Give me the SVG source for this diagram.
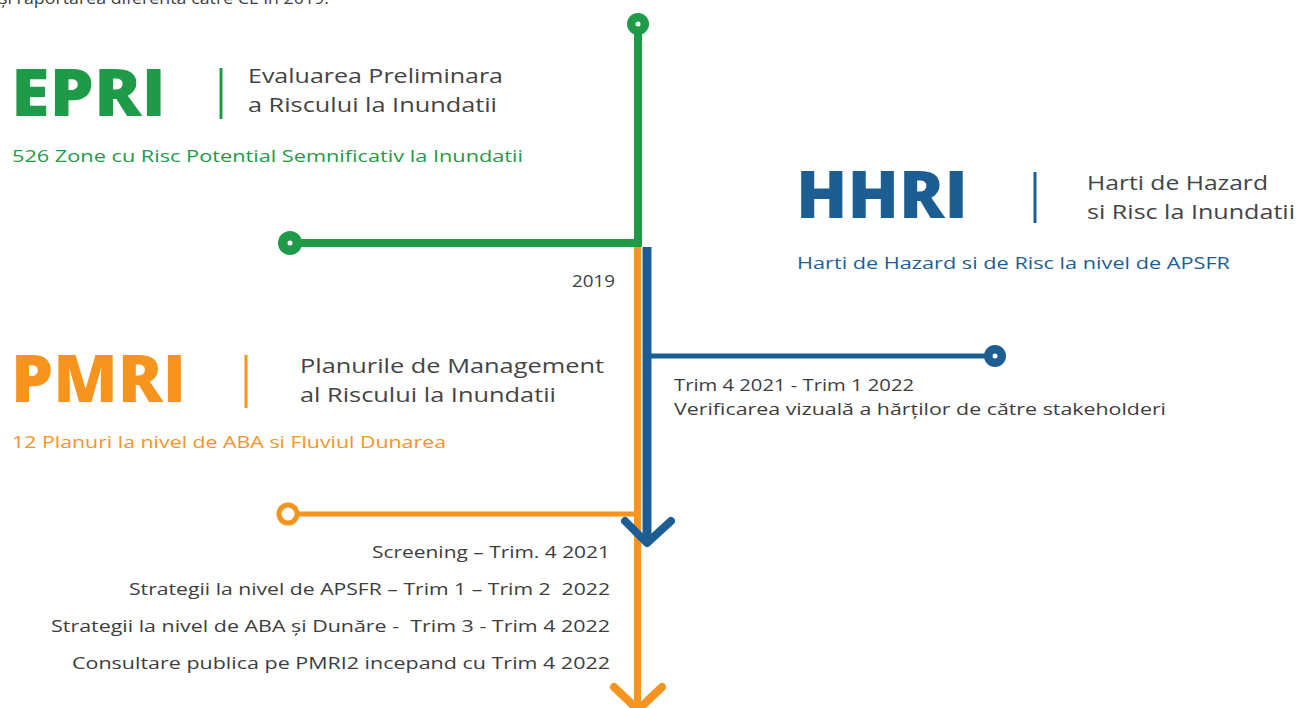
<svg xmlns="http://www.w3.org/2000/svg" width="1299" height="708" viewBox="0 0 1299 708">
<style>
text{font-family:"Open Sans","Noto Sans","Liberation Sans",sans-serif;white-space:pre}
.big{font-weight:800;font-size:65px}
.sub{font-size:20px;fill:#444}
.note{font-size:16.5px}
.grey{fill:#3d3d3d}
.g{fill:#1f9a48}.o{fill:#f7941d}.b{fill:#1d5e92}
.chev{fill:none;stroke-width:8;stroke-linecap:round;stroke-linejoin:round}
</style>
<rect width="1299" height="708" fill="#fff"/>
<text x="-1" y="4" class="note grey" textLength="330" lengthAdjust="spacingAndGlyphs">și raportarea diferenta catre CE in 2019.</text>

<g id="connectors">
  <line x1="638" y1="24" x2="638" y2="247" stroke="#1f9a48" stroke-width="8"/>
  <line x1="290" y1="243" x2="642" y2="243" stroke="#1f9a48" stroke-width="8"/>
  <line x1="637.5" y1="247" x2="637.5" y2="704" stroke="#f7941d" stroke-width="7"/>
  <line x1="647" y1="247" x2="647" y2="542" stroke="#1d5e92" stroke-width="9"/>
  <line x1="647" y1="356" x2="995" y2="356" stroke="#1d5e92" stroke-width="5"/>
  <line x1="288" y1="514" x2="637" y2="514" stroke="#f7941d" stroke-width="5"/>
  <polyline class="chev" points="625,521 647,543 671,521" stroke="#1d5e92"/>
  <polyline class="chev" points="614,687 638,710 662,687" stroke="#f7941d"/>
  <circle cx="638" cy="24" r="11" fill="#1f9a48"/>
  <circle cx="638" cy="24" r="2.5" fill="#fff"/>
  <circle cx="290" cy="243" r="12" fill="#1f9a48"/>
  <circle cx="290" cy="243" r="2.5" fill="#fff"/>
  <circle cx="995" cy="356" r="11" fill="#1d5e92"/>
  <circle cx="995" cy="356" r="2.5" fill="#fff"/>
  <circle cx="288" cy="514" r="9" fill="#fff" stroke="#f7941d" stroke-width="5"/>
</g>

<g id="epri">
  <text x="11" y="116" class="big g" textLength="155" lengthAdjust="spacingAndGlyphs">EPRI</text>
  <line x1="221" y1="68" x2="221" y2="119" stroke="#1f9a48" stroke-width="3"/>
  <text x="248" y="83" class="sub" textLength="255" lengthAdjust="spacingAndGlyphs">Evaluarea Preliminara</text>
  <text x="248" y="112" class="sub" textLength="249" lengthAdjust="spacingAndGlyphs">a Riscului la Inundatii</text>
  <text x="12" y="162" class="note g" textLength="511" lengthAdjust="spacingAndGlyphs">526 Zone cu Risc Potential Semnificativ la Inundatii</text>
</g>

<g id="hhri">
  <text x="796" y="218" class="big b" textLength="172" lengthAdjust="spacingAndGlyphs">HHRI</text>
  <line x1="1035" y1="172" x2="1035" y2="223" stroke="#1d5e92" stroke-width="3"/>
  <text x="1087" y="190" class="sub" textLength="181" lengthAdjust="spacingAndGlyphs">Harti de Hazard</text>
  <text x="1087" y="219" class="sub" textLength="208" lengthAdjust="spacingAndGlyphs">si Risc la Inundatii</text>
  <text x="797" y="269" class="note b" textLength="433" lengthAdjust="spacingAndGlyphs">Harti de Hazard si de Risc la nivel de APSFR</text>
</g>

<g id="year2019">
  <text x="615" y="287" class="note grey" text-anchor="end" font-size="17" textLength="43" lengthAdjust="spacingAndGlyphs">2019</text>
</g>

<g id="pmri">
  <text x="11" y="402" class="big o" textLength="175" lengthAdjust="spacingAndGlyphs">PMRI</text>
  <line x1="246" y1="355" x2="246" y2="408" stroke="#f7941d" stroke-width="3"/>
  <text x="300" y="373" class="sub" textLength="304" lengthAdjust="spacingAndGlyphs">Planurile de Management</text>
  <text x="300" y="402" class="sub" textLength="256" lengthAdjust="spacingAndGlyphs">al Riscului la Inundatii</text>
  <text x="12" y="448" class="note o" textLength="434" lengthAdjust="spacingAndGlyphs">12 Planuri la nivel de ABA si Fluviul Dunarea</text>
</g>

<g id="hhri-step">
  <text x="674" y="391" class="note grey" textLength="240" lengthAdjust="spacingAndGlyphs">Trim 4 2021 - Trim 1 2022</text>
  <text x="674" y="415" class="note grey" textLength="492" lengthAdjust="spacingAndGlyphs">Verificarea vizuală a hărților de către stakeholderi</text>
</g>

<g id="pmri-steps">
  <text x="610" y="558" class="note grey" text-anchor="end" textLength="238" lengthAdjust="spacingAndGlyphs">Screening – Trim. 4 2021</text>
  <text x="610" y="595" class="note grey" text-anchor="end" textLength="481" lengthAdjust="spacingAndGlyphs">Strategii la nivel de APSFR – Trim 1 – Trim 2  2022</text>
  <text x="610" y="632" class="note grey" text-anchor="end" textLength="559" lengthAdjust="spacingAndGlyphs">Strategii la nivel de ABA și Dunăre -  Trim 3 - Trim 4 2022</text>
  <text x="610" y="669" class="note grey" text-anchor="end" textLength="538" lengthAdjust="spacingAndGlyphs">Consultare publica pe PMRI2 incepand cu Trim 4 2022</text>
</g>
</svg>
